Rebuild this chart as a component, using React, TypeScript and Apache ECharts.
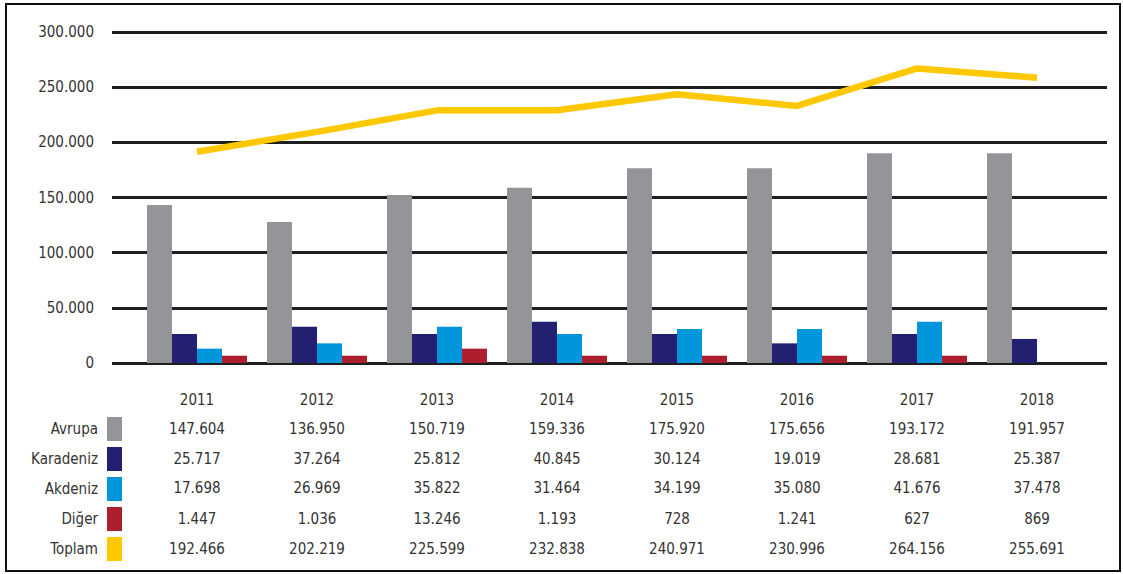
import React, { useEffect, useRef } from "react";
import * as echarts from "echarts";

const years = ["2011", "2012", "2013", "2014", "2015", "2016", "2017", "2018"];
const seriesNames = ["Avrupa", "Karadeniz", "Akdeniz", "Diğer", "Toplam"];

// Bar heights as drawn in the picture (thousands)
const avrupaBars = [143.2, 127.8, 152.3, 158.9, 176.5, 176.5, 190.0, 190.0];
const karadenizBars = [26.3, 32.9, 26.3, 37.4, 26.3, 17.8, 26.3, 21.8];
const akdenizBars = [13.0, 17.8, 32.9, 26.3, 30.8, 30.8, 37.4, 0];
const digerBars = [6.6, 6.6, 13.0, 6.6, 6.6, 6.6, 6.6, 0];
const toplamLine = [191.5, 209.5, 229.0, 229.0, 243.5, 233.0, 267.0, 258.6];

// Table values as printed
const avrupaTable = ["147.604", "136.950", "150.719", "159.336", "175.920", "175.656", "193.172", "191.957"];
const karadenizTable = ["25.717", "37.264", "25.812", "40.845", "30.124", "19.019", "28.681", "25.387"];
const akdenizTable = ["17.698", "26.969", "35.822", "31.464", "34.199", "35.080", "41.676", "37.478"];
const digerTable = ["1.447", "1.036", "13.246", "1.193", "728", "1.241", "627", "869"];
const toplamTable = ["192.466", "202.219", "225.599", "232.838", "240.971", "230.996", "264.156", "255.691"];

const yTicks = [0, 50, 100, 150, 200, 250, 300];

const colors = ["#939598", "#232072", "#0096DB", "#AD1F2E", "#FFC800"];
const FONT = '"Liberation Sans Narrow", "DejaVu Sans Condensed", "Roboto", sans-serif';
const TEXT = "#333333";

export default function App() {
  const ref = useRef<HTMLDivElement>(null);
  useEffect(() => {
    if (!ref.current) return;
    const chart = echarts.init(ref.current, undefined, { renderer: "svg" });
    const rows = [years, avrupaTable, karadenizTable, akdenizTable, digerTable, toplamTable];
    const offsets = [36.5, 66, 96, 125, 156, 186];
    const xAxes: any[] = rows.map((row, i) => ({
      type: "category",
      gridIndex: 0,
      data: row,
      position: "bottom",
      offset: offsets[i],
      axisLine: { show: false },
      axisTick: { show: false },
      splitLine: { show: false },
      axisLabel: {
        show: true,
        margin: 0,
        verticalAlign: "middle",
        interval: 0,
        color: TEXT,
        fontSize: 15,
        fontFamily: FONT,
      },
    }));
    xAxes.push({
      type: "category",
      gridIndex: 1,
      data: years,
      show: false,
    });
    const fmt = (v: number) => (v === 0 ? "0" : v.toFixed(3));
    chart.setOption({
      animation: false,
      backgroundColor: "#ffffff",
      textStyle: { fontFamily: FONT },
      grid: [
        { left: 137, top: 32, width: 960, height: 331 },
        { left: 112, top: 32, width: 995, height: 331 },
      ],
      xAxis: xAxes,
      yAxis: [
        {
          type: "value",
          gridIndex: 0,
          min: 0,
          max: 300,
          interval: 50,
          show: false,
          splitLine: { show: false },
        },
        {
          type: "value",
          gridIndex: 1,
          min: 0,
          max: 300,
          interval: 50,
          axisLine: { show: false },
          axisTick: { show: false },
          axisLabel: {
            color: TEXT,
            fontSize: 15,
            fontFamily: FONT,
            margin: 18,
            formatter: (v: number) => (yTicks.includes(v) ? fmt(v) : ""),
          },
          splitLine: { show: true, lineStyle: { color: "#1e1e1e", width: 3 } },
        },
      ],
      legend: {
        orient: "vertical",
        align: "right",
        right: 1001,
        top: 417,
        padding: 0,
        itemWidth: 15,
        itemHeight: 24,
        itemGap: 6,
        icon: "rect",
        selectedMode: false,
        data: seriesNames,
        textStyle: { color: TEXT, fontSize: 15, fontFamily: FONT, padding: [0, 4, 0, 0] },
      },
      series: [
        { name: "Avrupa", type: "bar", data: avrupaBars, barWidth: 25, barGap: "0%", itemStyle: { color: colors[0] } },
        { name: "Karadeniz", type: "bar", data: karadenizBars, barWidth: 25, barGap: "0%", itemStyle: { color: colors[1] } },
        { name: "Akdeniz", type: "bar", data: akdenizBars, barWidth: 25, barGap: "0%", itemStyle: { color: colors[2] } },
        { name: "Diğer", type: "bar", data: digerBars, barWidth: 25, barGap: "0%", itemStyle: { color: colors[3] } },
        {
          name: "Toplam",
          type: "line",
          data: toplamLine,
          symbol: "none",
          lineStyle: { color: colors[4], width: 6.5 },
          itemStyle: { color: colors[4] },
          z: 5,
        },
      ],
      graphic: [
        {
          type: "rect",
          shape: { x: 6, y: 4, width: 1114, height: 567 },
          style: { fill: "none", stroke: "#111", lineWidth: 2 },
          silent: true,
        },
      ],
    });
    return () => chart.dispose();
  }, []);
  return (
    <div
      ref={ref}
      style={{ position: "fixed", left: 0, top: 0, width: 1123, height: 574, background: "#fff" }}
    />
  );
}
